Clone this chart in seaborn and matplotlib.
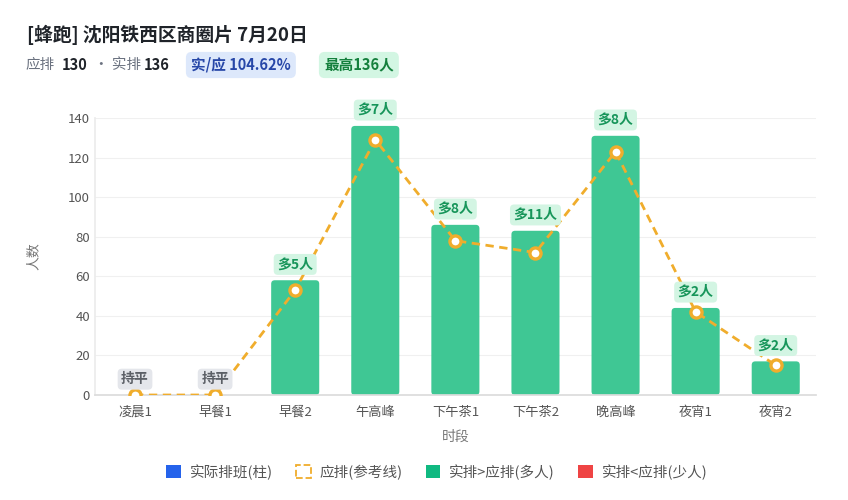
import numpy as np
import pandas as pd
import seaborn as sns
import matplotlib.pyplot as plt
from matplotlib.patches import FancyBboxPatch, Patch

periods = ['凌晨1', '早餐1', '早餐2', '午高峰', '下午茶1', '下午茶2', '晚高峰', '夜宵1', '夜宵2']
actual = [0, 0, 58, 136, 86, 83, 131, 44, 17]
expected = [0, 0, 53, 129, 78, 72, 123, 42, 15]
diff_labels = ['持平', '持平', '多5人', '多7人', '多8人', '多11人', '多8人', '多2人', '多2人']
y_ticks = [0, 20, 40, 60, 80, 100, 120, 140]

title = '[蜂跑] 沈阳铁西区商圈片 7月20日'
legend_labels = ['实际排班(柱)', '应排(参考线)', '实排>应排(多人)', '实排<应排(少人)']

GREEN = '#3fc794'
ORANGE = '#f0ad2c'

sns.set_theme(style='whitegrid')
plt.rcParams['font.family'] = ['Noto Sans CJK SC', 'DejaVu Sans']

df = pd.DataFrame({'时段': periods, '实排': actual, '应排': expected})

fig = plt.figure(figsize=(8.48, 5.0), dpi=100)
ax = fig.add_axes([0.112, 0.21, 0.85, 0.554])

sns.barplot(data=df, x='时段', y='实排', color=GREEN, width=0.6, saturation=1, ax=ax)

# swap plain bars for rounded ones
aspect = (140 / 277) / (9 / 720)
for p in list(ax.patches):
    x, w, h = p.get_x(), p.get_width(), p.get_height()
    p.remove()
    if h <= 0:
        continue
    ax.add_patch(FancyBboxPatch((x, 0), w, h,
                                boxstyle='round,pad=0,rounding_size=0.045',
                                mutation_aspect=aspect,
                                facecolor=GREEN, edgecolor='none', zorder=2))

xs = np.arange(len(periods))
ax.plot(xs, expected, color=ORANGE, lw=2, ls=(0, (3, 2)), zorder=3)
ax.plot(xs, expected, ls='none', marker='o', ms=8, mfc='white', mec=ORANGE, mew=2.4, zorder=4)

for i, lab in enumerate(diff_labels):
    top = max(actual[i], expected[i])
    if lab == '持平':
        fc, tc = '#e4e6eb', '#5b5f66'
    else:
        fc, tc = '#d3f5e3', '#17955a'
    ax.text(i, top + 8, lab, ha='center', va='center', fontsize=10, fontweight='bold',
            color=tc, clip_on=False, zorder=5,
            bbox=dict(boxstyle='round,pad=0.25,rounding_size=0.3', fc=fc, ec='none'))

ax.set_ylim(0, 140)
ax.set_xlim(-0.5, len(periods) - 0.5)
ax.set_yticks(y_ticks)
ax.set_xlabel('时段', color='#777777', fontsize=10, labelpad=8)
ax.set_ylabel('人数', color='#777777', fontsize=10, labelpad=20)
ax.tick_params(axis='both', colors='#555555', labelsize=9.5, length=0)
ax.tick_params(axis='x', pad=8)
ax.grid(axis='y', color='#f0f0f0', lw=0.8)
ax.grid(axis='x', visible=False)
for s in ['top', 'right']:
    ax.spines[s].set_visible(False)
ax.spines['left'].set_color('#ececec')
ax.spines['bottom'].set_color('#dcdcdc')

# header
fig.text(27 / 848, 1 - 35 / 500, title, fontsize=13.5, fontweight='bold', color='#1f2329', va='center')
sub_y = 1 - 65 / 500
fig.text(25 / 848, sub_y, '应排', fontsize=10.5, color='#6b7280', va='center')
fig.text(62 / 848, sub_y, '130', fontsize=10.5, fontweight='bold', color='#1f2329', va='center')
fig.text(94 / 848, sub_y, '· 实排', fontsize=10.5, color='#6b7280', va='center')
fig.text(144 / 848, sub_y, '136', fontsize=10.5, fontweight='bold', color='#1f2329', va='center')
fig.text(191 / 848, sub_y, '实/应 104.62%', fontsize=10.5, fontweight='bold', color='#2747a8', va='center',
         bbox=dict(boxstyle='round,pad=0.35,rounding_size=0.4', fc='#dde8fb', ec='none'))
fig.text(324 / 848, sub_y, '最高136人', fontsize=10.5, fontweight='bold', color='#15803d', va='center',
         bbox=dict(boxstyle='round,pad=0.35,rounding_size=0.4', fc='#d3f6e3', ec='none'))

handles = [
    Patch(facecolor='#2563eb', edgecolor='none'),
    Patch(facecolor='none', edgecolor=ORANGE, linestyle='--', lw=1.3),
    Patch(facecolor='#10b981', edgecolor='none'),
    Patch(facecolor='#ef4444', edgecolor='none'),
]
fig.legend(handles, legend_labels, loc='center', bbox_to_anchor=(0.515, 1 - 472 / 500), ncol=4,
           frameon=False, fontsize=10.5, handlelength=1.0, handleheight=1.0,
           columnspacing=1.6, handletextpad=0.6, labelcolor='#555555')

fig.savefig('out.png', dpi=100)
